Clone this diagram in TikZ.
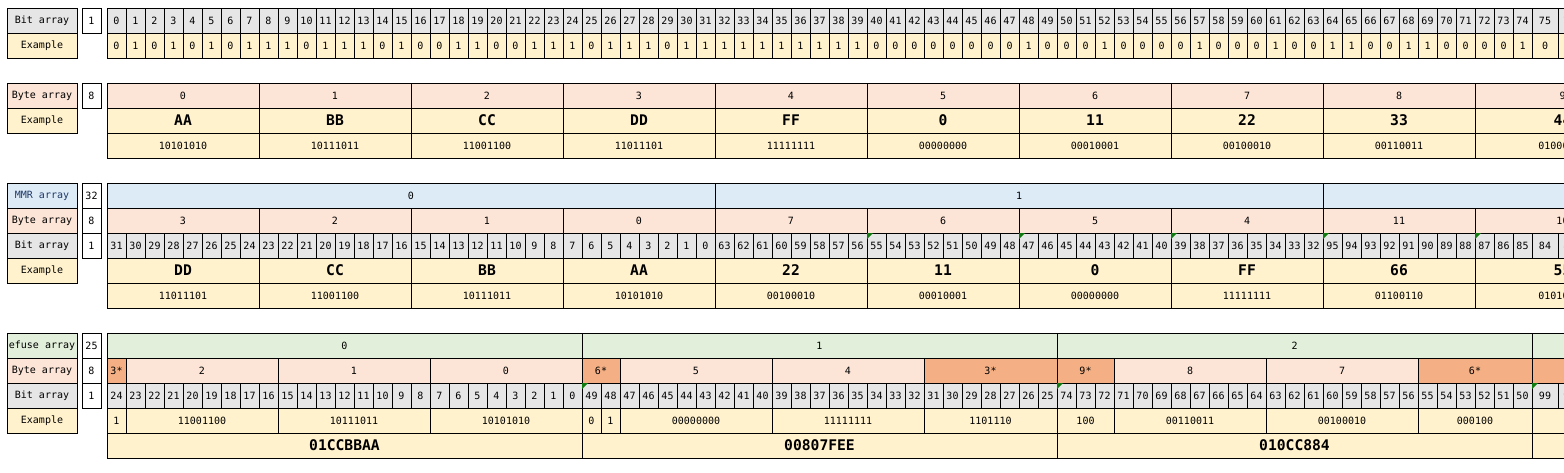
\documentclass[tikz,border=0pt]{standalone}
\usepackage{fontspec}
\setmonofont{DejaVu Sans Mono}

\definecolor{bitgray}{HTML}{E7E6E6}
\definecolor{exyellow}{HTML}{FFF2CC}
\definecolor{bytepeach}{HTML}{FCE4D6}
\definecolor{mmrblue}{HTML}{DDEBF7}
\definecolor{efusegreen}{HTML}{E2EFDA}
\definecolor{starorange}{HTML}{F4B084}
\definecolor{flaggreen}{HTML}{107C10}
\definecolor{mmrtext}{HTML}{1F3864}

\newcommand\tabfont{\fontsize{7.5}{9}\selectfont\ttfamily}
\newcommand\hexfont{\fontsize{11}{13}\selectfont\ttfamily\bfseries}

\tikzset{
  cell/.style={draw, line width=0.75pt, inner sep=0pt, outer sep=0pt,
    anchor=north west, minimum height=18.75pt, minimum width=14.25pt, font=\tabfont},
  rowname/.style={cell, minimum width=52.5pt},
  unitbox/.style={cell, fill=white},
  cols/.style 2 args={minimum width={(colx(#1+#2)-colx(#1))*0.75pt}},
  hex/.style={font=\hexfont},
  flag/.style={fill=flaggreen},
}

\begin{document}
\begin{tikzpicture}[x=0.75pt, y=-0.75pt,
  declare function={colx(\c)=107+19*\c+(\c>75)*(4*\c-297);}]
\useasboundingbox (0,0) rectangle (1564,472);
\clip (0,0) rectangle (1564,472);

% bit array
\node[rowname, fill=bitgray] (name1a) at (7,8) {Bit array};
\node[rowname, fill=exyellow] (name1b) at (7,33) {Example};
\node[unitbox] (size1a) at (82,8) {1};
\foreach \i in {0,...,76}
  \node[cell, fill=bitgray, cols={\i}{1}] (bit1-\i) at ({colx(\i)},8) {\i};
\foreach \v [count=\i from 0] in {0,1,0,1,0,1,0,1, 1,1,0,1,1,1,0,1, 0,0,1,1,0,0,1,1,
    1,0,1,1,1,0,1,1, 1,1,1,1,1,1,1,1, 0,0,0,0,0,0,0,0, 1,0,0,0,1,0,0,0,
    0,1,0,0,0,1,0,0, 1,1,0,0,1,1,0,0, 0,0,1,0,0}
  \node[cell, fill=exyellow, cols={\i}{1}] (ex1-\i) at ({colx(\i)},33) {\v};

% byte array
\node[rowname, fill=bytepeach] (name2a) at (7,83) {Byte array};
\node[rowname, fill=exyellow] (name2b) at (7,108) {Example};
\node[unitbox] (size2a) at (82,83) {8};
\foreach \hexv/\binv [count=\k from 0] in {AA/10101010, BB/10111011, CC/11001100,
    DD/11011101, FF/11111111, 0/00000000, 11/00010001, 22/00100010,
    33/00110011, 44/01000100} {
  \node[cell, fill=bytepeach, cols={8*\k}{8}] (byte2-\k) at ({colx(8*\k)},83) {\k};
  \node[cell, fill=exyellow, hex, cols={8*\k}{8}] (hex2-\k) at ({colx(8*\k)},108) {\hexv};
  \node[cell, fill=exyellow, cols={8*\k}{8}] (bin2-\k) at ({colx(8*\k)},133) {\binv};
}

% mmr array
\node[rowname, fill=mmrblue, text=mmrtext] (name3a) at (7,183) {MMR array};
\node[rowname, fill=bytepeach] (name3b) at (7,208) {Byte array};
\node[rowname, fill=bitgray] (name3c) at (7,233) {Bit array};
\node[rowname, fill=exyellow] (name3d) at (7,258) {Example};
\node[unitbox] (size3a) at (82,183) {32};
\node[unitbox] (size3b) at (82,208) {8};
\node[unitbox] (size3c) at (82,233) {1};
\foreach \k in {0,1,2}
  \node[cell, fill=mmrblue, cols={32*\k}{32}] (mmr3-\k) at ({colx(32*\k)},183) {\k};
\foreach \n/\hexv/\binv [count=\k from 0] in {3/DD/11011101, 2/CC/11001100,
    1/BB/10111011, 0/AA/10101010, 7/22/00100010, 6/11/00010001,
    5/0/00000000, 4/FF/11111111, 11/66/01100110, 10/55/01010101} {
  \node[cell, fill=bytepeach, cols={8*\k}{8}] (byte3-\k) at ({colx(8*\k)},208) {\n};
  \node[cell, fill=exyellow, hex, cols={8*\k}{8}] (hex3-\k) at ({colx(8*\k)},258) {\hexv};
  \node[cell, fill=exyellow, cols={8*\k}{8}] (bin3-\k) at ({colx(8*\k)},283) {\binv};
}
\foreach \i in {0,...,76} {
  \pgfmathtruncatemacro\bitno{32*floor(\i/32)+31-mod(\i,32)}
  \node[cell, fill=bitgray, cols={\i}{1}] (bit3-\i) at ({colx(\i)},233) {\bitno};
}
\foreach \i in {40,48,56,64,72}
  \fill[flag] ({colx(\i)},233) -- ++(6,0) -- ++(-6,6) -- cycle;

% efuse array
\node[rowname, fill=efusegreen] (name4a) at (7,333) {efuse array};
\node[rowname, fill=bytepeach] (name4b) at (7,358) {Byte array};
\node[rowname, fill=bitgray] (name4c) at (7,383) {Bit array};
\node[rowname, fill=exyellow] (name4d) at (7,408) {Example};
\node[unitbox] (size4a) at (82,333) {25};
\node[unitbox] (size4b) at (82,358) {8};
\node[unitbox] (size4c) at (82,383) {1};
\foreach \k in {0,...,3}
  \node[cell, fill=efusegreen, cols={25*\k}{25}] (efuse4-\k) at ({colx(25*\k)},333) {\k};
\foreach \s/\w/\txt/\fillc in {0/1/3*/starorange, 1/8/2/bytepeach, 9/8/1/bytepeach,
    17/8/0/bytepeach, 25/2/6*/starorange, 27/8/5/bytepeach, 35/8/4/bytepeach,
    43/7/3*/starorange, 50/3/9*/starorange, 53/8/8/bytepeach, 61/8/7/bytepeach,
    69/6/6*/starorange, 75/4/12*/starorange}
  \node[cell, fill=\fillc, cols={\s}{\w}] (byte4-\s) at ({colx(\s)},358) {\txt};
\foreach \i in {0,...,76} {
  \pgfmathtruncatemacro\bitno{25*floor(\i/25)+24-mod(\i,25)}
  \node[cell, fill=bitgray, cols={\i}{1}] (bit4-\i) at ({colx(\i)},383) {\bitno};
}
\foreach \i in {25,50,75}
  \fill[flag] ({colx(\i)},383) -- ++(6,0) -- ++(-6,6) -- cycle;
\foreach \s/\w/\txt in {0/1/1, 1/8/11001100, 9/8/10111011, 17/8/10101010,
    25/1/0, 26/1/1, 27/8/00000000, 35/8/11111111, 43/7/1101110, 50/3/100,
    53/8/00110011, 61/8/00100010, 69/6/000100, 75/25/}
  \node[cell, fill=exyellow, cols={\s}{\w}] (ex4-\s) at ({colx(\s)},408) {\txt};
\foreach \s/\txt in {0/01CCBBAA, 25/00807FEE, 50/010CC884, 75/}
  \node[cell, fill=exyellow, hex, cols={\s}{25}] (word4-\s) at ({colx(\s)},433) {\txt};
\end{tikzpicture}
\end{document}
